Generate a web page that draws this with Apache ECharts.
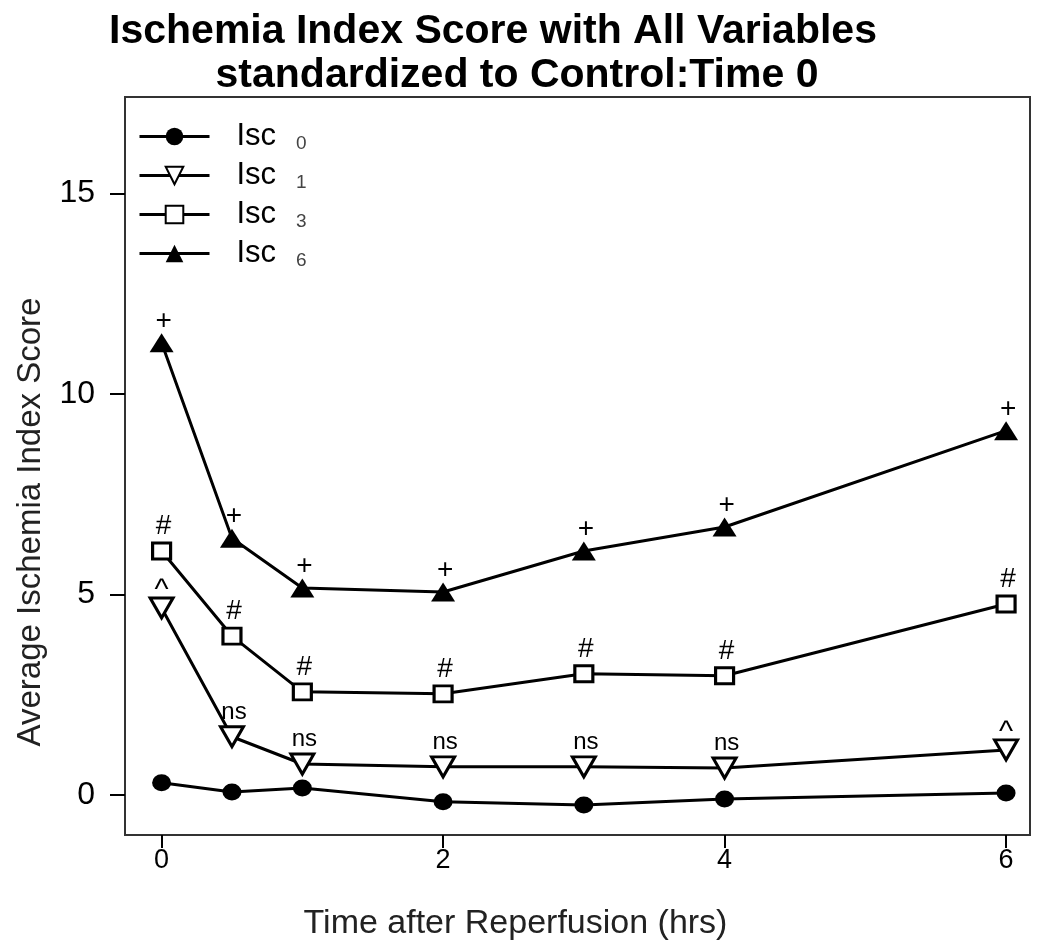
<!DOCTYPE html>
<html><head><meta charset="utf-8">
<script src="https://cdn.jsdelivr.net/npm/echarts@6/dist/echarts.min.js"></script>
<style>html,body{margin:0;padding:0;background:#fff}#c{width:1050px;height:950px}</style>
</head><body><div id="c"></div>
<script>
const hours = [0, 0.5, 1, 2, 3, 4, 6];
const isc0 = [0.30, 0.07, 0.17, -0.17, -0.25, -0.10, 0.05];
const isc1 = [4.66, 1.45, 0.77, 0.70, 0.70, 0.67, 1.12];
const isc3 = [6.08, 3.96, 2.57, 2.52, 3.02, 2.97, 4.76];
const isc6 = [11.27, 6.40, 5.16, 5.06, 6.08, 6.68, 9.08];
const ann0 = ['', '', '', '', '', '', ''];
const ann1 = ['^', 'ns', 'ns', 'ns', 'ns', 'ns', '^'];
const ann3 = ['#', '#', '#', '#', '#', '#', '#'];
const ann6 = ['+', '+', '+', '+', '+', '+', '+'];
const xTicks = [0, 2, 4, 6];
const yTicks = [0, 5, 10, 15];
const seriesNames = ['Isc 0', 'Isc 1', 'Isc 3', 'Isc 6'];
const titleLines = ['Ischemia Index Score with All Variables', 'standardized to Control:Time 0'];

const FONT = '"Liberation Sans", Arial, sans-serif';
function mk(name, vals, ann, symbol, size, filled, rotate, labelSize) {
  return {
    name: name, type: 'line',
    data: hours.map((h, i) => ({
      value: [h, vals[i]],
      label: { formatter: ann[i], fontSize: ann[i] === 'ns' ? 24 : (ann[i] === '^' ? 30 : labelSize),
               offset: ann[i] === '^' ? [0, 10] : (ann[i] === '+' ? [2, 3] : [2, 0]) }
    })),
    symbol: symbol, symbolSize: size, symbolRotate: rotate || 0,
    showAllSymbol: true,
    lineStyle: { color: '#000', width: 3 },
    itemStyle: { color: filled ? '#000' : '#fff', borderColor: '#000', borderWidth: filled ? 0 : 3 },
    label: { show: true, position: 'top', distance: 1, color: '#000', fontFamily: FONT },
    emphasis: { disabled: true },
    z: 3
  };
}
const chart = echarts.init(document.getElementById('c'), null, { renderer: 'canvas' });
chart.setOption({
  backgroundColor: '#fff',
  animation: false,
  title: [
    { text: titleLines[0], left: 488, top: 6, textAlign: 'center',
      textStyle: { fontFamily: FONT, fontWeight: 'bold', fontSize: 41, color: '#000' } },
    { text: titleLines[1], left: 512, top: 50, textAlign: 'center',
      textStyle: { fontFamily: FONT, fontWeight: 'bold', fontSize: 41, color: '#000' } }
  ],
  legend: {
    left: 133, top: 115, orient: 'vertical', itemGap: 6,
    itemWidth: 70, itemHeight: 22,
    data: seriesNames,
    lineStyle: { width: 3, color: '#000' },
    formatter: function (n) { const p = n.split(' '); return '{a|' + p[0] + '}{s|' + p[1] + '}'; },
    textStyle: {
      rich: {
        a: { fontFamily: FONT, fontSize: 31, lineHeight: 30, color: '#000', padding: [0, 0, 0, 22] },
        s: { fontFamily: FONT, fontSize: 19, lineHeight: 30, color: '#444', padding: [14, 0, 0, 20] }
      }
    }
  },
  grid: { left: 125, right: 20, top: 97, bottom: 115, show: true, borderColor: '#333', borderWidth: 2, backgroundColor: 'transparent' },
  xAxis: {
    type: 'value', min: -0.26, max: 6.17,
    name: 'Time after Reperfusion (hrs)', nameLocation: 'middle', nameGap: 72,
    nameTextStyle: { fontFamily: FONT, fontSize: 34, color: '#222', padding: [0, 124, 0, 0] },
    axisLine: { show: false, onZero: false },
    splitLine: { show: false },
    axisTick: { show: true, customValues: xTicks, length: 13, lineStyle: { color: '#000', width: 2 } },
    axisLabel: { customValues: xTicks, fontFamily: FONT, fontSize: 27, color: '#000', margin: 12 }
  },
  yAxis: {
    type: 'value', min: -1, max: 17.4,
    name: 'Average Ischemia Index Score', nameLocation: 'middle', nameGap: 78,
    nameTextStyle: { fontFamily: FONT, fontSize: 33, color: '#222', padding: [0, 112, 0, 0] },
    axisLine: { show: false, onZero: false },
    splitLine: { show: false },
    axisTick: { show: true, customValues: yTicks, length: 15, lineStyle: { color: '#000', width: 2 } },
    axisLabel: { customValues: yTicks, fontFamily: FONT, fontSize: 32, color: '#000', margin: 30 }
  },
  series: [
    mk(seriesNames[0], isc0, ann0, 'circle', [19, 17], true, 0, 26),
    mk(seriesNames[1], isc1, ann1, 'triangle', [23, 20], false, 180, 26),
    mk(seriesNames[2], isc3, ann3, 'rect', [18, 16], false, 0, 28),
    mk(seriesNames[3], isc6, ann6, 'triangle', [24, 19], true, 0, 28)
  ]
});
</script></body></html>
